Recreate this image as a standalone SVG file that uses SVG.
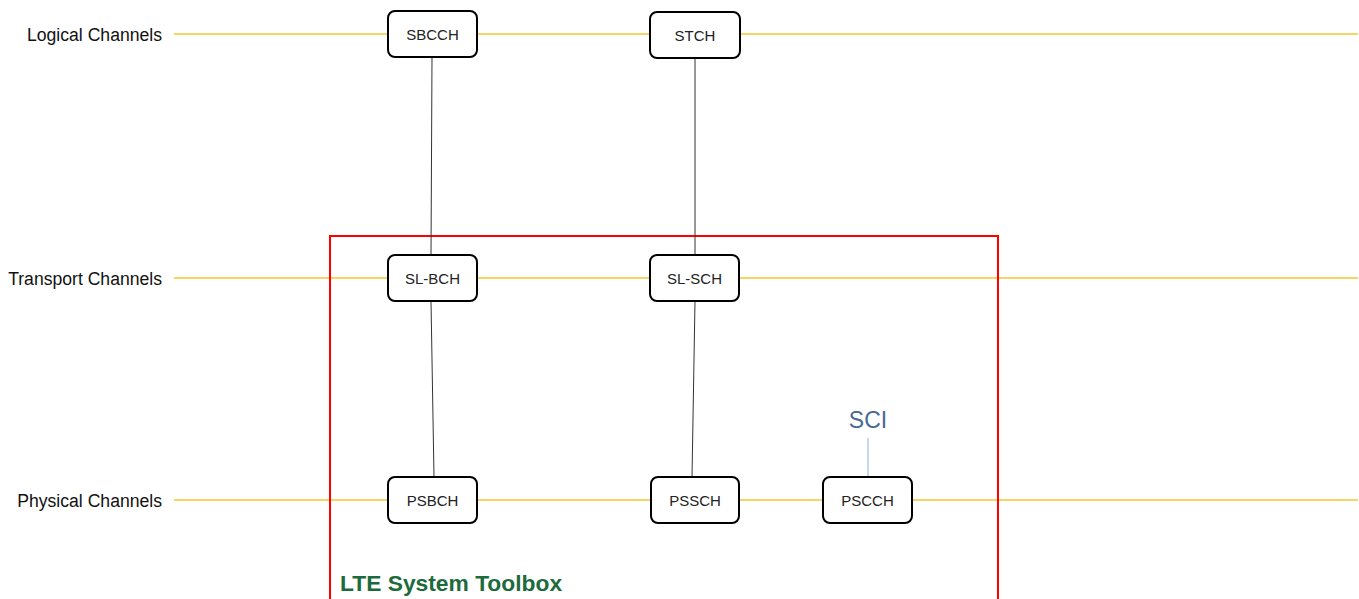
<svg xmlns="http://www.w3.org/2000/svg" width="1359" height="599" viewBox="0 0 1359 599">
<style>
.lane{stroke:#f7c531;stroke-width:1.5;fill:none}
.lbl{font-family:"Liberation Sans",Arial,sans-serif;font-size:17.6px;fill:#111;text-anchor:end;dominant-baseline:central}
.node rect{fill:#fff;stroke:#000;stroke-width:2}
.node text{font-family:"Liberation Sans",Arial,sans-serif;font-size:15px;fill:#222;text-anchor:middle;dominant-baseline:central}
.conn{stroke:#333;stroke-width:1;fill:none}
</style>
<rect width="1359" height="599" fill="#fff"/>
<g id="lanes">
<line class="lane" x1="174" y1="34" x2="1358" y2="34"/>
<line class="lane" x1="174" y1="278" x2="1358" y2="278"/>
<line class="lane" x1="174" y1="500" x2="1358" y2="500"/>
<text class="lbl" x="162" y="35">Logical Channels</text>
<text class="lbl" x="162" y="279">Transport Channels</text>
<text class="lbl" x="162" y="501">Physical Channels</text>
</g>
<g id="toolbox">
<polyline points="330,599 330,236 998,236 998,599" fill="none" stroke="#f00" stroke-width="2"/>
<text x="340" y="591" font-family="Liberation Sans,Arial,sans-serif" font-size="22.8" font-weight="bold" fill="#1d6b3c">LTE System Toolbox</text>
</g>
<g id="connectors">
<line class="conn" x1="432" y1="57" x2="431" y2="255"/>
<line class="conn" x1="431" y1="301" x2="434" y2="477"/>
<line class="conn" x1="695" y1="58" x2="695" y2="255"/>
<line class="conn" x1="695" y1="301" x2="692" y2="477"/>
<line x1="868" y1="438" x2="868" y2="477" stroke="#8fb0d8" stroke-width="1"/>
</g>
<g id="SBCCH" class="node"><rect x="388" y="11" width="89" height="46" rx="7"/><text x="432.5" y="34">SBCCH</text></g>
<g id="STCH" class="node"><rect x="650" y="12" width="90" height="46" rx="7"/><text x="695" y="35">STCH</text></g>
<g id="SL-BCH" class="node"><rect x="388" y="255" width="89" height="46" rx="7"/><text x="432.5" y="278">SL-BCH</text></g>
<g id="SL-SCH" class="node"><rect x="650" y="255" width="89" height="46" rx="7"/><text x="694.5" y="278">SL-SCH</text></g>
<g id="PSBCH" class="node"><rect x="388" y="477" width="89" height="46" rx="7"/><text x="432.5" y="500">PSBCH</text></g>
<g id="PSSCH" class="node"><rect x="651" y="477" width="88" height="46" rx="7"/><text x="695" y="500">PSSCH</text></g>
<g id="PSCCH" class="node"><rect x="823" y="477" width="89" height="46" rx="7"/><text x="867.5" y="500">PSCCH</text></g>
<g id="SCI"><text x="868" y="420" font-family="Liberation Sans,Arial,sans-serif" font-size="23" fill="#4a6894" text-anchor="middle" dominant-baseline="central">SCI</text></g>
</svg>
